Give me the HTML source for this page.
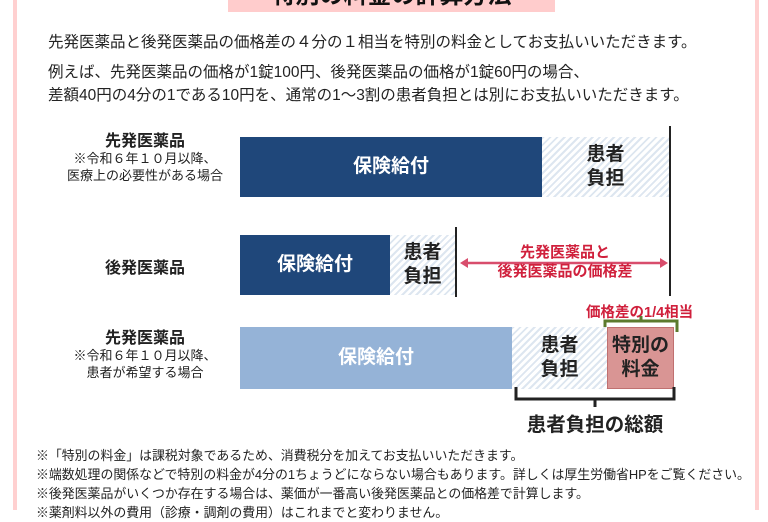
<!DOCTYPE html>
<html><head><meta charset="utf-8"><style>
*{margin:0;padding:0;box-sizing:border-box}
body{width:768px;height:510px;overflow:hidden;background:#fff;position:relative;font-family:"Liberation Sans","Noto Sans CJK JP",sans-serif;color:#222}
.a{position:absolute;white-space:nowrap}
.hatch{background:repeating-linear-gradient(135deg,#dde6f0 0 2px,#fff 2px 5px)}
.b{font-weight:bold}
.c{text-align:center}
</style></head><body>
<div class="a" style="left:13px;top:0;width:4px;height:510px;background:#ffd0d0"></div>
<div class="a" style="left:755px;top:0;width:4px;height:510px;background:#ffd0d0"></div>
<div class="a" style="left:228px;top:0;width:327px;height:12px;background:#ffcccc;overflow:hidden">
<div class="a b c" style="left:0;width:327px;top:-25px;font-size:24px;color:#111">特別の料金の計算方法</div></div>
<div class="a" style="left:48px;top:30px;font-size:15.5px">先発医薬品と後発医薬品の価格差の４分の１相当を特別の料金としてお支払いいただきます。</div>
<div class="a" style="left:48px;top:61px;font-size:15.5px;line-height:23px">例えば、先発医薬品の価格が1錠100円、後発医薬品の価格が1錠60円の場合、<br>差額40円の4分の1である10円を、通常の1～3割の患者負担とは別にお支払いいただきます。</div>

<div class="a c" style="left:65px;width:160px;top:133px;font-size:16px;line-height:17px"><b>先発医薬品</b><br><span style="font-size:13px">※令和６年１０月以降、<br>医療上の必要性がある場合</span></div>
<div class="a c b" style="left:65px;width:160px;top:254px;font-size:16px">後発医薬品</div>
<div class="a c" style="left:65px;width:160px;top:330px;font-size:16px;line-height:17px"><b>先発医薬品</b><br><span style="font-size:13px">※令和６年１０月以降、<br>患者が希望する場合</span></div>

<div class="a b c" style="left:240px;top:137px;width:302px;height:60px;background:#1f477a;color:#fff;font-size:19px;line-height:60px">保険給付</div>
<div class="a hatch b c" style="left:542px;top:137px;width:127px;height:60px;font-size:19px;line-height:24px;padding-top:6px">患者<br>負担</div>
<div class="a" style="left:669px;top:126px;width:2px;height:170px;background:#222"></div>

<div class="a b c" style="left:240px;top:235px;width:150px;height:60px;background:#1f477a;color:#fff;font-size:19px;line-height:60px">保険給付</div>
<div class="a hatch b c" style="left:390px;top:235px;width:65px;height:60px;font-size:19px;line-height:24px;padding-top:6px">患者<br>負担</div>
<div class="a" style="left:455px;top:227px;width:2px;height:70px;background:#222"></div>
<svg class="a" style="left:458px;top:250px" width="212" height="26"><path d="M6 13H206" stroke="#d84d6c" stroke-width="2.5"/><path d="M2 13L10 8V18Z M210 13L202 8V18Z" fill="#d84d6c"/></svg>
<div class="a b c" style="left:465px;width:200px;top:243px;font-size:15px;line-height:19px;color:#d0203c">先発医薬品と<br>後発医薬品の価格差</div>

<div class="a b" style="left:586px;top:301px;font-size:14.5px;color:#d0203c">価格差の1/4相当</div>
<svg class="a" style="left:600px;top:312px" width="82" height="22"><path d="M5 20V9H77V20 M41 9V4" fill="none" stroke="#5c7a2e" stroke-width="3"/></svg>
<div class="a b c" style="left:240px;top:327px;width:272px;height:62px;background:#95b3d7;color:#fff;font-size:19px;line-height:62px">保険給付</div>
<div class="a hatch b c" style="left:512px;top:327px;width:95px;height:62px;font-size:19px;line-height:24px;padding-top:7px">患者<br>負担</div>
<div class="a b c" style="left:607px;top:327px;width:67px;height:62px;background:#d99594;border:1px solid #c07070;font-size:19px;line-height:24px;padding-top:6px">特別の<br>料金</div>
<svg class="a" style="left:512px;top:385px" width="166" height="25"><path d="M4 2V14H162V2 M83 14V22" fill="none" stroke="#222" stroke-width="3"/></svg>
<div class="a b c" style="left:490px;width:210px;top:408px;font-size:19.5px">患者負担の総額</div>

<div class="a" style="left:36px;top:446px;font-size:12.9px;line-height:19px">※「特別の料金」は課税対象であるため、消費税分を加えてお支払いいただきます。<br>※端数処理の関係などで特別の料金が4分の1ちょうどにならない場合もあります。詳しくは厚生労働省HPをご覧ください。<br>※後発医薬品がいくつか存在する場合は、薬価が一番高い後発医薬品との価格差で計算します。<br>※薬剤料以外の費用（診療・調剤の費用）はこれまでと変わりません。</div>
</body></html>
